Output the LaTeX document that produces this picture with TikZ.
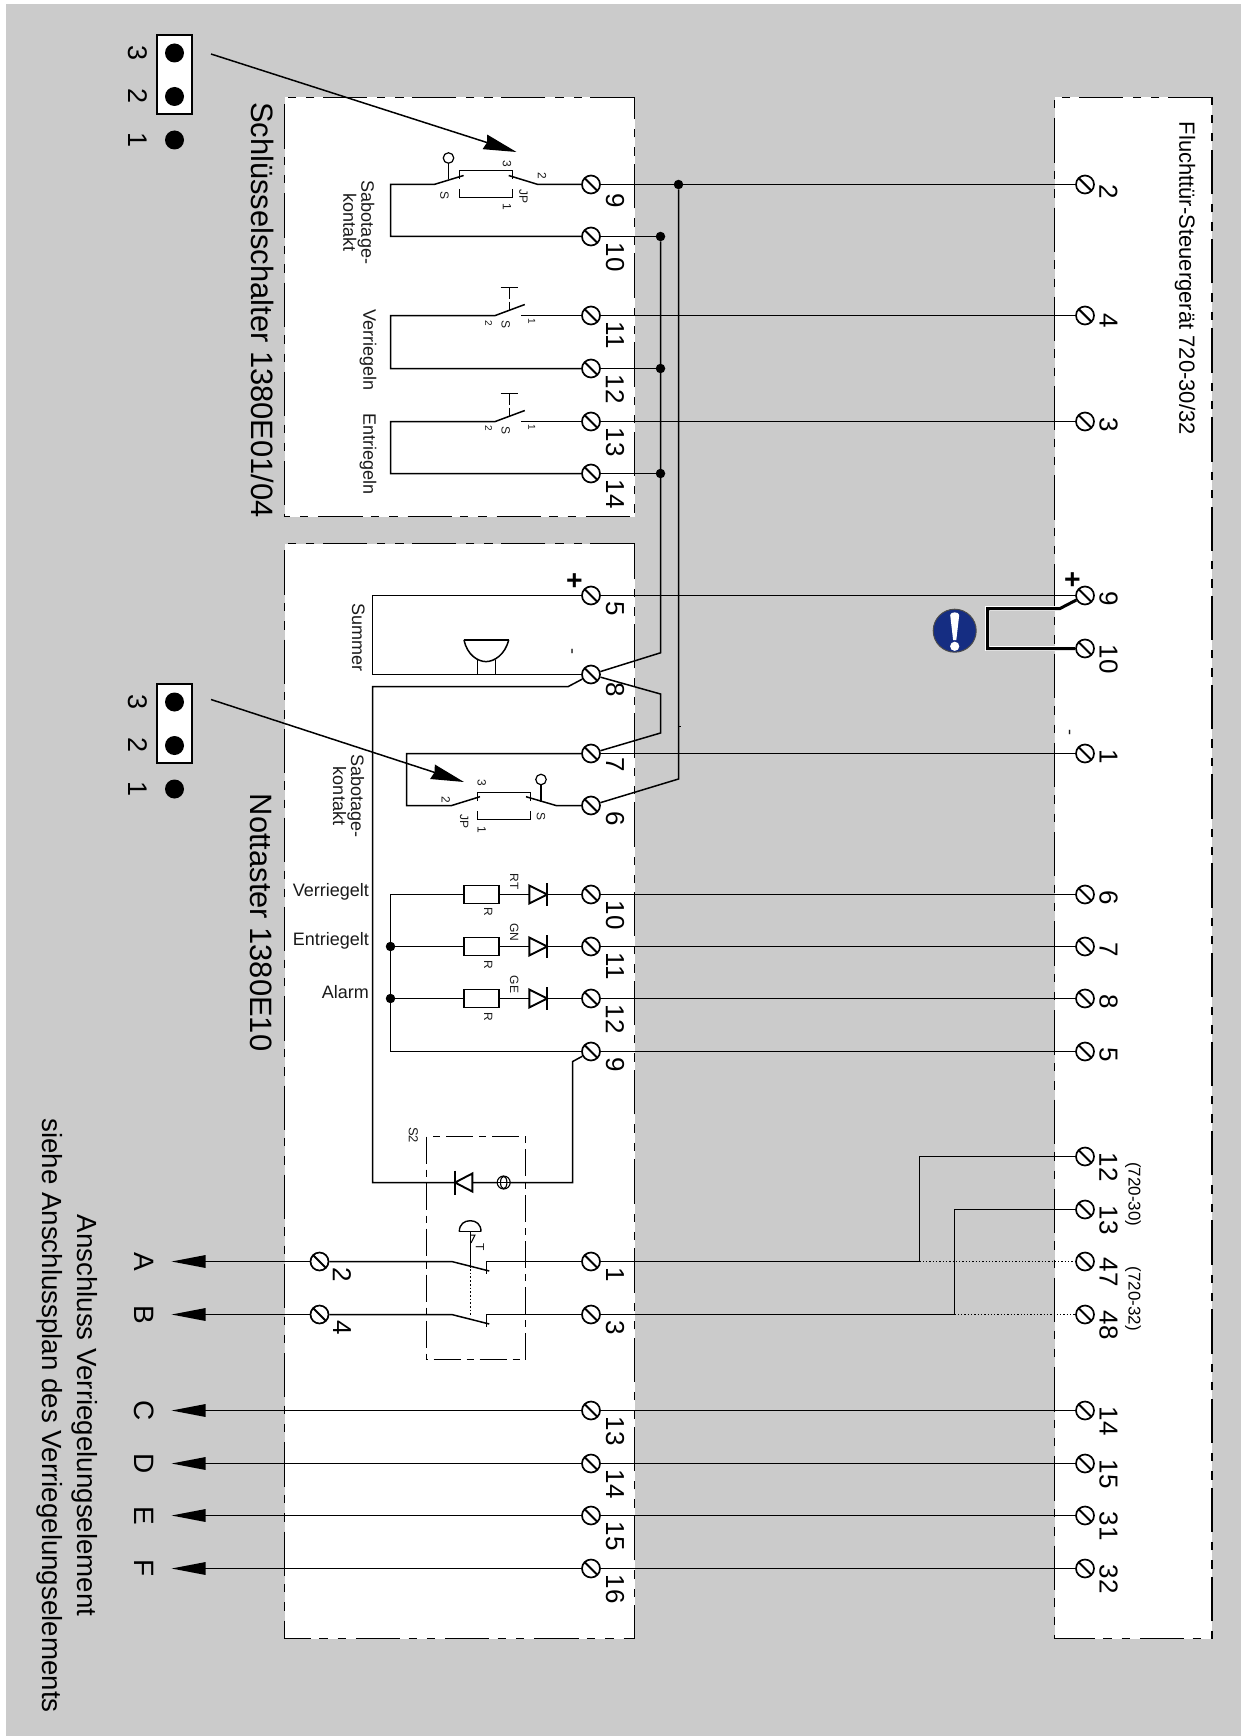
\documentclass[tikz,border=0pt]{standalone}
\usepackage{fontspec}
\setmainfont{Liberation Sans}
\usetikzlibrary{arrows.meta}
\definecolor{bggray}{HTML}{CBCBCB}
\definecolor{signblue}{HTML}{152D82}
\definecolor{inkk}{HTML}{1A1A1A}
\newcommand{\fsz}[1]{\fontsize{#1}{#1}\selectfont}
\tikzset{
  wire/.style={line width=1.5pt,line join=miter},
  thinw/.style={line width=1.3pt},
  sym/.style={line width=1.9pt},
  boxborder/.style={draw=black,line width=1.5pt,dash pattern=on 44.3pt off 8.3pt on 8.3pt off 10pt on 8.3pt off 10pt},
  term/.style={circle,draw,fill=white,line width=1.7pt,minimum size=18pt,inner sep=0pt,
    path picture={\draw[line width=2.1pt] (path picture bounding box.north west)--(path picture bounding box.south east);}},
  jdot/.style={circle,fill=black,minimum size=9.5pt,inner sep=0pt},
  pindot/.style={circle,fill=black,minimum size=19pt,inner sep=0pt},
  termlbl/.style={rotate=-90,anchor=west,inner sep=0pt,font=\fsz{26}},
  vtxt/.style={rotate=-90,inner sep=0pt,text=inkk,font=\fsz{18}},
  stxt/.style={rotate=-90,inner sep=0pt,text=inkk,font=\fsz{12}},
  htxt/.style={anchor=east,inner sep=0pt,text=inkk,font=\fsz{18}},
  title/.style={rotate=-90,inner sep=0pt,anchor=west,font=\fsz{30.9}},
  arrowtip/.style={-{Triangle[length=34pt,width=12.5pt]},wire},
  jumptip/.style={-{Stealth[length=33pt,width=15pt,inset=2pt]},line width=1.5pt},
  pinlbl/.style={rotate=-90,inner sep=0pt,font=\fsz{27}},
  letterlbl/.style={rotate=-90,inner sep=0pt,font=\fsz{28}},
}
% [label shift], name, x, y, label
\newcommand{\lterm}[5][0]{\node[term] (#2) at (#3,#4) {}; \node[termlbl] (#2t) at (615,#4+6+#1) {#5};}
\newcommand{\rterm}[5][0]{\node[term] (#2) at (#3,#4) {}; \node[termlbl] (#2t) at (1108.5,#4-4+#1) {#5};}
\begin{document}
\begin{tikzpicture}[x=1pt,y=-1pt]
\useasboundingbox (0,0) rectangle (1245,1736);
\fill[bggray] (6,4) rectangle (1241,1736);
% boxes
\fill[white] (284.5,97.5) rectangle (634.5,516.5);
\fill[white] (284.5,543.5) rectangle (634.5,1638.5);
\fill[white] (1054.5,97.5) rectangle (1212,1638.5);
\draw[boxborder] (634.5,97.5)--(284.5,97.5)--(284.5,516.5)--(634.5,516.5)--cycle;
\draw[boxborder] (634.5,543.5)--(284.5,543.5)--(284.5,1638.5)--(634.5,1638.5)--cycle;
\draw[boxborder] (1212,97.5)--(1054.5,97.5)--(1054.5,1638.5)--(1212,1638.5)--cycle;
% titles
\node[title] (t1) at (262.5,102) {Schlüsselschalter 1380E01/04};
\node[title] (t2) at (261.5,793.5) {Nottaster 1380E10};
\node[rotate=-90,inner sep=0pt,anchor=west,font=\fsz{22}] (t3) at (1185,121.5) {Fluchttür-Steuergerät 720-30/32};
\node[rotate=-90,inner sep=0pt,font=\fsz{27.7},align=center] (t4) at (67.5,1415.5) {Anschluss Verriegelungselement\\[7.5pt]siehe Anschlussplan des Verriegelungselements};
% jumpers
\foreach \n/\dy in {a/0,b/649}{
  \node[draw,line width=1.8pt,fill=white,minimum width=35.5pt,minimum height=79.5pt,inner sep=0pt] (jb\n) at (174.5,74.5+\dy) {};
  \node[pindot] (jd3\n) at (174.5,53+\dy) {};
  \node[pindot] (jd2\n) at (174.5,96.5+\dy) {};
  \node[pindot] (jd1\n) at (174.5,140+\dy) {};
  \node[pinlbl] (jl3\n) at (138,53+\dy) {3};
  \node[pinlbl] (jl2\n) at (138,96.5+\dy) {2};
  \node[pinlbl] (jl1\n) at (138,140+\dy) {1};
}
\coordinate (a1s) at (211,54); \coordinate (a1e) at (516.5,152);
\coordinate (a2s) at (211,699.5); \coordinate (a2e) at (464,782);
% terminals upper box
\lterm[3]{L9}{591}{184.5}{9}
\lterm{L10}{591}{236.5}{10}
\lterm{L11}{591}{315.5}{11}
\lterm{L12}{591}{368.5}{12}
\lterm{L13}{591}{421.5}{13}
\lterm{L14}{591}{473.5}{14}
% terminals lower box
\lterm{N5}{591}{595.5}{5}
\lterm[2]{N8}{591}{674.5}{8}
\lterm[-2]{N7}{591}{753.5}{7}
\lterm{N6}{591}{805.5}{6}
\lterm{N10}{591}{894.5}{10}
\lterm{N11}{591}{946.5}{11}
\lterm{N12}{591}{998.5}{12}
\lterm{N9}{591}{1051.5}{9}
\lterm{N1}{591}{1261.5}{1}
\lterm{N3}{591}{1314.5}{3}
\lterm{N13}{591}{1410.5}{13}
\lterm{N14}{591}{1463.5}{14}
\lterm{N15}{591}{1515.5}{15}
\lterm{N16}{591}{1568.5}{16}
\node[term] (N2) at (319.5,1261.5) {};
\node[termlbl] (N2t) at (342,1267.5) {2};
\node[term] (N4) at (319.5,1314.5) {};
\node[termlbl] (N4t) at (342,1320.5) {4};
% terminals right box
\rterm[3.5]{R2}{1085}{184.5}{2}
\rterm[1.5]{R4}{1085}{315.5}{4}
\rterm{R3}{1085}{421.5}{3}
\rterm{R9}{1085}{595.5}{9}
\rterm{R10}{1085}{648.5}{10}
\rterm{R1}{1085}{753.5}{1}
\rterm{R6}{1085}{894.5}{6}
\rterm{R7}{1085}{946.5}{7}
\rterm{R8}{1085}{998.5}{8}
\rterm{R5}{1085}{1051.5}{5}
\rterm{R12}{1085}{1156.5}{12}
\rterm{R13}{1085}{1209.5}{13}
\rterm{R47}{1085}{1261.5}{47}
\rterm{R48}{1085}{1314.5}{48}
\rterm{R14}{1085}{1410.5}{14}
\rterm{R15}{1085}{1463.5}{15}
\rterm{R31}{1085}{1515.5}{31}
\rterm{R32}{1085}{1568.5}{32}
\node[rotate=-90,inner sep=0pt,anchor=west,font=\fsz{17}] (v30) at (1133,1162) {(720-30)};
\node[rotate=-90,inner sep=0pt,anchor=west,font=\fsz{17}] (v32) at (1133,1266.5) {(720-32)};
% straight wires across
\draw[wire] (L9)--(R2) (L11)--(R4) (L13)--(R3) (N7)--(R1)
  (N10)--(R6) (N11)--(R7) (N12)--(R8) (N9)--(R5)
  (N13)--(R14) (N14)--(R15) (N15)--(R31) (N16)--(R32);
\draw[thinw] (N5)--(R9);
% bus verticals
\node[jdot] (J9) at (678.5,184.5) {};
\node[jdot] (J10) at (660.5,236.5) {};
\node[jdot] (J12) at (660.5,368.5) {};
\node[jdot] (J14) at (660.5,473.5) {};
\coordinate (b6) at (678.5,779);
\coordinate (b8a) at (660.5,652.8);
\coordinate (b8b) at (660.5,694);
\coordinate (b7) at (660.5,733);
\coordinate (t6) at (678.5,726.5); \coordinate (t6b) at (681,726.5);
\draw[wire] (J9)--(b6)--(N6);
\draw[wire] (J10)--(b8a)--(N8);
\draw[wire] (N8)--(b8b)--(b7)--(N7);
\draw[wire] (t6)--(t6b);
\draw[wire] (L10)--(J10) (L12)--(J12) (L14)--(J14);
% upper box loops
\coordinate (c10) at (390.5,236.5); \coordinate (c9) at (390.5,184.5);
\coordinate (c12) at (390.5,368.5); \coordinate (c11) at (390.5,315.5);
\coordinate (c14) at (390.5,473.5); \coordinate (c13) at (390.5,421.5);
\coordinate (s9a) at (434,184.5); \coordinate (s9b) at (463.6,175.5);
\coordinate (s9c) at (538,184.5); \coordinate (s9d) at (508.7,175.5);
\draw[wire] (L10)--(c10)--(c9)--(s9a)--(s9b);
\draw[wire] (L9)--(s9c)--(s9d);
\draw[wire] (459.5,179)--(459.5,170.5)--(512.5,170.5)--(512.5,179);
\draw[wire] (459.5,189)--(459.5,197.5)--(512.5,197.5)--(512.5,189);
\node[circle,draw,line width=1.2pt,inner sep=0pt,minimum size=10.5pt] (k1) at (448.5,158) {};
\coordinate (k1b) at (448.5,179.2);
\draw[wire] (k1)--(k1b);
\node[stxt] (l1) at (444.5,196) {S};
\node[stxt] (l2) at (507,163.5) {3};
\node[stxt] (l3) at (542,176) {2};
\node[stxt] (l4) at (523.5,197) {JP};
\node[stxt] (l5) at (507,207) {1};
\node[vtxt,align=center] (l6) at (358.7,222.5) {Sabotage-\\kontakt};
\node[vtxt] (l7) at (368,350) {Verriegeln};
\node[vtxt] (l8) at (368,454) {Entriegeln};
% pushbutton contacts in upper box
\foreach \cn/\nt/\nb/\cb/\yy in {c11/L11/L12/c12/315.5,c13/L13/L14/c14/421.5}{
  \draw[wire] (\nb)--(\cb)--(\cn)--(495.3,\yy)--(524.8,\yy-11);
  \draw[wire] (\nt)--(521,\yy);
  \draw[wire] (500.7,\yy-28)--(518.3,\yy-28);
  \draw[wire,dash pattern=on 11pt off 3pt] (509.5,\yy-28)--(509.5,\yy-6);
}
\node[stxt] (s11) at (505.7,325) {S};
\node[stxt,font=\fsz{10}] (s11a) at (488.5,323) {2};
\node[stxt,font=\fsz{10}] (s11b) at (531.7,321.5) {1};
\node[stxt] (s13) at (505.7,430.5) {S};
\node[stxt,font=\fsz{10}] (s13a) at (488.5,428.5) {2};
\node[stxt,font=\fsz{10}] (s13b) at (531.7,427) {1};
% Summer
\coordinate (m5) at (372.5,595.5); \coordinate (m8) at (372.5,674.5);
\draw[wire] (N5)--(m5)--(m8)--(N8);
\draw[line width=1.5pt] (464,639.8)--(508.7,639.8);
\draw[line width=1.5pt] (464,639.8) .. controls (467,655) and (478,661.6) .. (486,661.6) .. controls (494,661.6) and (505,655) .. (508.7,639.8);
\draw[line width=1.5pt] (477.5,660)--(477.5,674.5) (495.5,660)--(495.5,674.5);
\node[vtxt] (sm) at (358.3,637) {Summer};
\node[rotate=-90,inner sep=0pt,font=\fsz{28}\bfseries] (p1) at (574,581) {+};
\node[vtxt] (m1) at (570,651) {-};
\node[rotate=-90,inner sep=0pt,font=\fsz{28}\bfseries] (p2) at (1071.7,580) {+};
\node[vtxt] (m2) at (1067.7,732.7) {-};
% long return wire
\coordinate (w1) at (568.3,686.5); \coordinate (w2) at (372.5,686.5);
\coordinate (w3) at (372.5,1182.5); \coordinate (w4) at (572.5,1182.5);
\coordinate (w5) at (572.5,1061.6);
\draw[wire] (N8)--(w1)--(w2)--(w3)--(w4)--(w5)--(N9);
% lower sabotage
\coordinate (q1) at (406.5,753.5); \coordinate (q2) at (406.5,805.5);
\coordinate (q3) at (451.7,805.5); \coordinate (q4) at (480,796.7);
\coordinate (q5) at (556,805.5); \coordinate (q6) at (526,796.7);
\draw[wire] (N7)--(q1)--(q2)--(q3)--(q4);
\draw[wire] (N6)--(q5)--(q6);
\draw[wire] (477.5,801)--(477.5,792.5)--(530.5,792.5)--(530.5,801);
\draw[wire] (477.5,811)--(477.5,819.5)--(530.5,819.5)--(530.5,811);
\node[circle,draw,line width=1.2pt,inner sep=0pt,minimum size=10.5pt] (k2) at (541,779.5) {};
\coordinate (k2b) at (541,802);
\draw[wire] (k2)--(k2b);
\node[stxt] (n1) at (445.7,799.5) {2};
\node[stxt] (n2) at (481.7,783.3) {3};
\node[stxt] (n3) at (464.3,821) {JP};
\node[stxt] (n4) at (481.7,830) {1};
\node[stxt] (n5) at (541,816) {S};
\node[vtxt,align=center] (n6) at (348.5,796) {Sabotage-\\kontakt};
% LEDs
\coordinate (v10) at (390.5,894.5); \coordinate (v9) at (390.5,1051.5);
\node[jdot] (v11) at (390.5,946.5) {};
\node[jdot] (v12) at (390.5,998.5) {};
\draw[wire] (N10)--(v10)--(v9)--(N9);
\draw[wire] (N11)--(v11) (N12)--(v12);
\foreach \yy in {894.5,946.5,998.5}{
  \draw[sym,fill=white] (464,\yy-9) rectangle (499.3,\yy+9);
  \draw[sym,fill=white] (529.3,\yy-9)--(547.3,\yy)--(529.3,\yy+9)--cycle;
  \draw[sym] (547.3,\yy-11.5)--(547.3,\yy+11.5);
}
\node[stxt] (rt) at (514.3,881.5) {RT};
\node[stxt] (gn) at (514.3,932.5) {GN};
\node[stxt] (ge) at (514.3,984.5) {GE};
\node[stxt] (r1) at (488.3,911.5) {R};
\node[stxt] (r2) at (488.3,964.5) {R};
\node[stxt] (r3) at (488.3,1017) {R};
\node[htxt] (h1) at (369,891.5) {Verriegelt};
\node[htxt] (h2) at (369,941) {Entriegelt};
\node[htxt] (h3) at (369,992) {Alarm};
% S2 block
\draw[line width=1.1pt,dash pattern=on 27pt off 6pt on 7pt off 6pt] (426.5,1136.5) rectangle (525.5,1359.5);
\node[stxt,font=\fsz{13}] (s2) at (413.3,1135) {S2};
\draw[sym,fill=white] (472.3,1173.5)--(455,1182.5)--(472.3,1191.5)--cycle;
\draw[sym] (455,1170.5)--(455,1194.5);
\node[circle,draw,line width=1.1pt,inner sep=0pt,minimum size=13pt,fill=white] (led) at (503.7,1182.5) {};
\draw[line width=1.1pt] (503.7,1182.5) ellipse (3.2pt and 6.2pt);
\draw[line width=1.1pt] (497.2,1182.5)--(510.2,1182.5);
% mushroom button
\draw[line width=1.4pt] (459.3,1231.7)--(481,1231.7);
\draw[line width=1.4pt] (459.3,1231.7) .. controls (459.3,1224) and (464.5,1220.7) .. (470.2,1220.7) .. controls (476,1220.7) and (481,1224) .. (481,1231.7);
\draw[wire] (470.5,1231.7)--(470.5,1268);
\draw[line width=1pt] (470.5,1235)--(475,1235)--(471,1243);
\node[stxt] (tt) at (480,1246.7) {T};
\draw[line width=1.7pt,dotted] (470.5,1269)--(470.5,1316.7);
% switch contacts
\coordinate (x1) at (451.7,1261.5); \coordinate (x2) at (489.3,1271);
\coordinate (x3) at (486.5,1261.5); \coordinate (x4) at (486.5,1274.3);
\coordinate (y1) at (451.7,1314.5); \coordinate (y2) at (489.3,1324);
\coordinate (y3) at (486.5,1314.5); \coordinate (y4) at (486.5,1327.3);
\draw[wire] (N2)--(x1)--(x2);
\draw[wire] (N1)--(x3)--(x4);
\draw[wire] (N4)--(y1)--(y2);
\draw[wire] (N3)--(y3)--(y4);
% right bus lines
\coordinate (e1) at (919.5,1261.5); \coordinate (e2) at (919.5,1156.5);
\coordinate (f1) at (954.5,1314.5); \coordinate (f2) at (954.5,1209.5);
\draw[wire] (N1)--(e1)--(e2)--(R12);
\draw[wire] (N3)--(f1)--(f2)--(R13);
\draw[line width=1.3pt,dotted] (e1)--(R47);
\draw[line width=1.3pt,dotted] (f1)--(R48);
% left arrows
\coordinate (ta) at (171.5,1261.5); \coordinate (tb) at (171.5,1314.5);
\coordinate (tc) at (171.5,1410.5); \coordinate (td) at (171.5,1463.5);
\coordinate (te) at (171.5,1515.5); \coordinate (tf) at (171.5,1568.5);
\draw[arrowtip] (N2)--(ta);
\draw[arrowtip] (N4)--(tb);
\draw[arrowtip] (N13)--(tc);
\draw[arrowtip] (N14)--(td);
\draw[arrowtip] (N15)--(te);
\draw[arrowtip] (N16)--(tf);
\node[letterlbl] (LA) at (144,1261.5) {A};
\node[letterlbl] (LB) at (144,1314.5) {B};
\node[letterlbl] (LC) at (144,1410.5) {C};
\node[letterlbl] (LD) at (144,1463.5) {D};
\node[letterlbl] (LE) at (144,1515.5) {E};
\node[letterlbl] (LF) at (144,1568.5) {F};
% jumper arrows
\draw[jumptip] (a1s)--(a1e);
\draw[jumptip] (a2s)--(a2e);
% thick link
\coordinate (z1) at (1060,608.5); \coordinate (z2) at (987.5,608.5); \coordinate (z3) at (987.5,648.5);
\draw[white,line width=5.8pt,line join=miter] (z1)--(z2)--(z3)--(1070,648.5);
\draw[line width=3pt,line join=miter] (R9)--(z1)--(z2)--(z3)--(R10);
% warning sign
\node[circle,fill=signblue,draw=black!70,line width=1pt,minimum size=43pt,inner sep=0pt] (warn) at (954.7,630.7) {};
\fill[white] (950.2,615) .. controls (950.2,611.5) and (959.2,611.5) .. (959.2,615) -- (956.3,640) -- (953.1,640) -- cycle;
\fill[white] (954.7,646.3) circle (4.6pt);
\end{tikzpicture}
\end{document}
